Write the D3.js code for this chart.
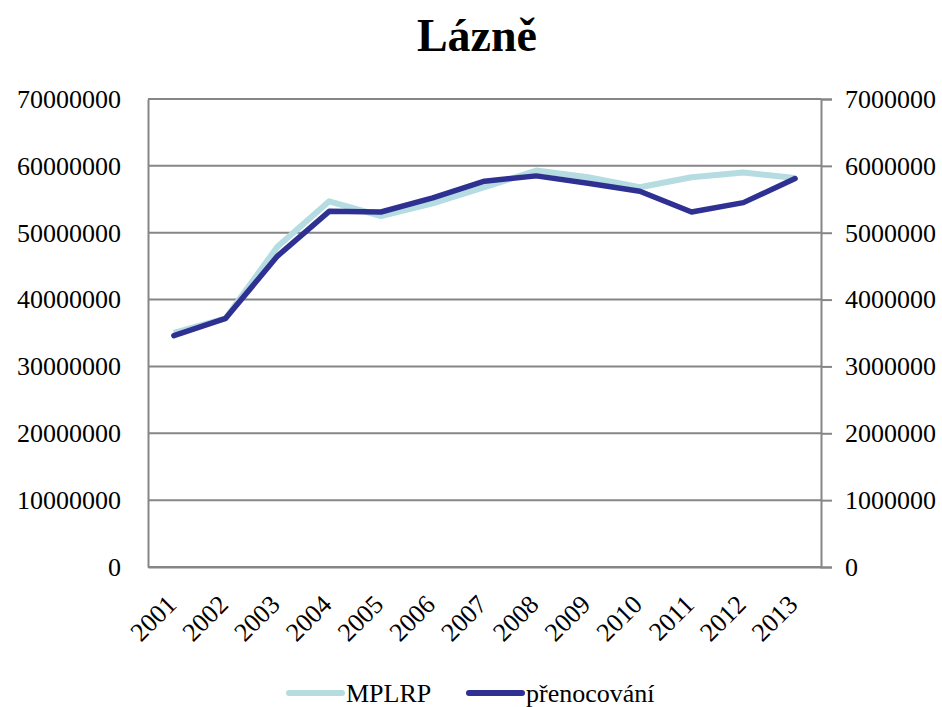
<!DOCTYPE html>
<html>
<head>
<meta charset="utf-8">
<script src="https://cdn.jsdelivr.net/npm/d3@7"></script>
<style>
  body { margin: 0; background: #fff; }
  text { font-family: "Liberation Serif", "DejaVu Serif", serif; fill: #000; }
</style>
</head>
<body>
<div id="chart"></div>
<script>
// data
var years = ["2001","2002","2003","2004","2005","2006","2007","2008","2009","2010","2011","2012","2013"];
var mplrp = [35000000, 37200000, 47900000, 54700000, 52500000, 54400000, 56800000, 59300000, 58300000, 56800000, 58300000, 59000000, 58200000];
var prenocovani = [3460000, 3720000, 4650000, 5320000, 5310000, 5520000, 5770000, 5850000, 5740000, 5620000, 5310000, 5450000, 5810000];
var leftTicks = [0, 10000000, 20000000, 30000000, 40000000, 50000000, 60000000, 70000000];
var rightTicks = [0, 1000000, 2000000, 3000000, 4000000, 5000000, 6000000, 7000000];

var W = 942, H = 707;
var margin = {top: 99, right: 121, bottom: 140, left: 148},
    width = W - margin.left - margin.right,
    height = H - margin.top - margin.bottom;

var svg = d3.select("#chart").append("svg")
    .attr("width", W)
    .attr("height", H);

// title
svg.append("text")
  .attr("x", 477)
  .attr("y", 51)
  .attr("text-anchor", "middle")
  .style("font-size", "46px")
  .style("font-weight", "bold")
  .text("Lázně");

var g = svg.append("g")
  .attr("transform", "translate(" + margin.left + "," + margin.top + ")");

var x = d3.scaleBand().domain(years).range([0, width]);
var yL = d3.scaleLinear().domain([0, 70000000]).range([height, 0]);
var yR = d3.scaleLinear().domain([0, 7000000]).range([height, 0]);

var gray = "#868686";

// gridlines
g.selectAll(".grid")
  .data(leftTicks)
  .enter().append("line")
  .attr("x1", 0).attr("x2", width)
  .attr("y1", function(d) { return yL(d); })
  .attr("y2", function(d) { return yL(d); })
  .attr("stroke", gray)
  .attr("stroke-width", 2);

// left axis
var leftAxis = g.append("g")
  .call(d3.axisLeft(yL).tickValues(leftTicks).tickSize(0).tickPadding(27).tickFormat(d3.format("d")));
leftAxis.select(".domain").attr("stroke", gray).attr("stroke-width", 2);
leftAxis.selectAll("text").style("font-size", "26px").attr("fill", "#000");

// right axis
var rightAxis = g.append("g")
  .attr("transform", "translate(" + width + ",0)")
  .call(d3.axisRight(yR).tickValues(rightTicks).tickSize(11).tickPadding(13).tickFormat(d3.format("d")));
rightAxis.select(".domain").attr("stroke", gray).attr("stroke-width", 2);
rightAxis.selectAll(".tick line").attr("stroke", gray).attr("stroke-width", 2);
rightAxis.selectAll("text").style("font-size", "26px").attr("fill", "#000");

// x axis labels
var xAxis = g.append("g")
  .attr("transform", "translate(0," + height + ")")
  .call(d3.axisBottom(x).tickSize(0).tickPadding(0));
xAxis.select(".domain").attr("stroke", gray).attr("stroke-width", 2);
xAxis.selectAll("text")
  .style("font-size", "26px")
  .attr("fill", "#000")
  .attr("text-anchor", "end")
  .attr("dy", "0")
  .attr("transform", "translate(4,39) rotate(-45)");

// lines
var lineL = d3.line()
  .x(function(d, i) { return x(years[i]) + x.bandwidth() / 2; })
  .y(function(d) { return yL(d); });
var lineR = d3.line()
  .x(function(d, i) { return x(years[i]) + x.bandwidth() / 2; })
  .y(function(d) { return yR(d); });

g.append("path")
  .datum(mplrp)
  .attr("d", lineL)
  .attr("fill", "none")
  .attr("stroke", "#b5dde1")
  .attr("stroke-width", 6)
  .attr("stroke-linejoin", "round");

g.append("path")
  .datum(prenocovani)
  .attr("d", lineR)
  .attr("fill", "none")
  .attr("stroke", "#2e3192")
  .attr("stroke-width", 5.5)
  .attr("stroke-linejoin", "round")
  .attr("stroke-linecap", "round");

// legend
var legend = [
  {name: "MPLRP", color: "#b5dde1", x: 289},
  {name: "přenocování", color: "#2e3192", x: 469}
];
var lg = svg.selectAll(".legend")
  .data(legend)
  .enter().append("g")
  .attr("transform", function(d) { return "translate(" + d.x + ",693)"; });
lg.append("line")
  .attr("x1", 0).attr("x2", 53)
  .attr("stroke", function(d) { return d.color; })
  .attr("stroke-width", 6)
  .attr("stroke-linecap", "round");
lg.append("text")
  .attr("x", 57)
  .attr("y", 9)
  .style("font-size", "26px")
  .text(function(d) { return d.name; });
</script>
</body>
</html>
